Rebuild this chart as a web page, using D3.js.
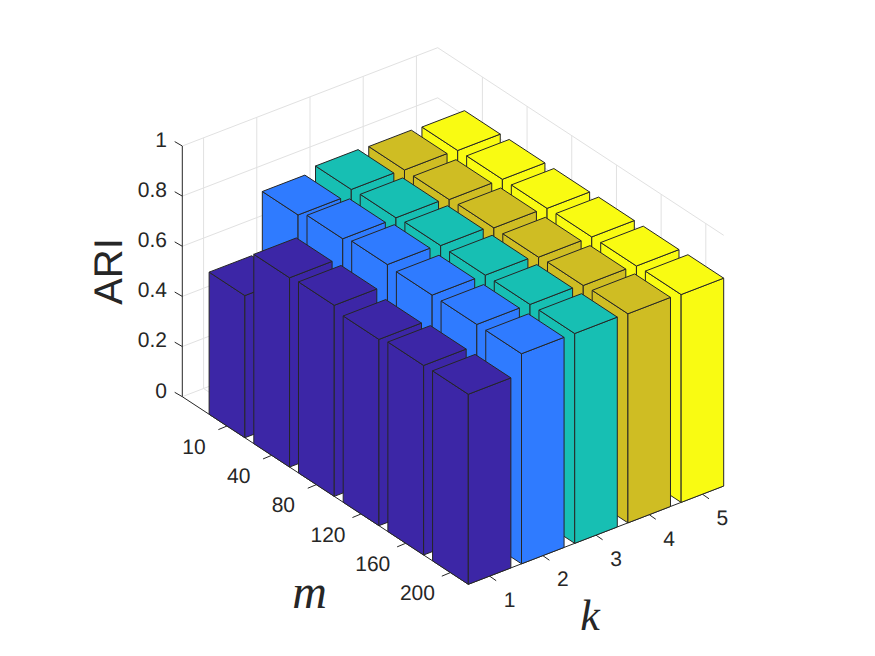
<!DOCTYPE html>
<html>
<head>
<meta charset="utf-8">
<script src="https://d3js.org/d3.v7.min.js"></script>
<style>
  html, body { margin: 0; padding: 0; background: #fff; }
  svg { display: block; }
  text { font-family: "Liberation Sans", Arial, sans-serif; fill: #262626; text-rendering: geometricPrecision; }
</style>
</head>
<body>
<div id="chart"></div>
<script>
(function(){
    'use strict';

    var kLabels = ["1", "2", "3", "4", "5"],
        mLabels = ["10", "40", "80", "120", "160", "200"],
        zTicks = [0, 0.2, 0.4, 0.6, 0.8, 1],
        zTickLabels = ["0", "0.2", "0.4", "0.6", "0.8", "1"],
        colors = ["#3c26a6", "#2f7bff", "#17bfb3", "#cfbd23", "#f9fb12"];

    // ARI per k, one value per m
    var ariK1 = [0.567, 0.755, 0.762, 0.743, 0.756, 0.758],
        ariK2 = [0.807, 0.829, 0.843, 0.838, 0.838, 0.838],
        ariK3 = [0.827, 0.831, 0.837, 0.836, 0.836, 0.837],
        ariK4 = [0.823, 0.822, 0.826, 0.826, 0.830, 0.834],
        ariK5 = [0.819, 0.821, 0.822, 0.825, 0.826, 0.829];
    var ari = [ariK1, ariK2, ariK3, ariK4, ariK5];

    var width = 875,
        height = 656,
        barHalf = 0.4,
        gridColor = "#e1e1e1",
        axisColor = "#262626";

    // projected floor corners of the axes box, the view is orthographic
    var front = [468.3, 584.3],
        right = [723.7, 486],
        left = [182.3, 396.7];

    // bar3 limits: k runs 0.6..5.4, m position runs 0..6.4 towards the viewer
    var kScale = d3.scaleLinear().domain([0.6, 5.4]).range([0, 1]),
        mScale = d3.scaleLinear().domain([6.4, 0]).range([0, 1]),
        zScale = d3.scaleLinear().domain([0, 1]).range([0, 250.7]);

    function project(k, m, z) {
        var a = kScale(k), b = mScale(m);
        return [
            front[0] + a * (right[0] - front[0]) + b * (left[0] - front[0]),
            front[1] + a * (right[1] - front[1]) + b * (left[1] - front[1]) - zScale(z)
        ];
    }

    var line = d3.line();
    function poly(points) { return line(points) + "Z"; }

    var svg = d3.select("#chart").append("svg")
        .attr("width", width)
        .attr("height", height);

    var kTicks = kLabels.map(function(d, i) { return i + 1; }),
        mTicks = mLabels.map(function(d, i) { return i + 1; });

    // grid on the floor and the two back walls
    var gridLines = [];
    zTicks.forEach(function(z) {
        gridLines.push([project(0.6, 0, z), project(5.4, 0, z)]);
        gridLines.push([project(5.4, 0, z), project(5.4, 6.4, z)]);
    });
    kTicks.forEach(function(k) {
        gridLines.push([project(k, 0, 0), project(k, 0, 1)]);
        gridLines.push([project(k, 0, 0), project(k, 6.4, 0)]);
    });
    mTicks.forEach(function(m) {
        gridLines.push([project(5.4, m, 0), project(5.4, m, 1)]);
        gridLines.push([project(5.4, m, 0), project(0.6, m, 0)]);
    });

    svg.append("g").selectAll("path")
        .data(gridLines)
        .enter().append("path")
        .attr("d", function(d) { return line(d); })
        .attr("fill", "none")
        .attr("stroke", gridColor)
        .attr("stroke-width", 1);

    // axis lines and ticks
    var axisLines = [
        [project(0.6, 0, 0), project(0.6, 0, 1)],
        [project(0.6, 0, 0), project(0.6, 6.4, 0)],
        [project(0.6, 6.4, 0), project(5.4, 6.4, 0)]
    ];

    zTicks.forEach(function(z) {
        var p = project(0.6, 0, z);
        axisLines.push([p, [p[0] - 7.6, p[1] - 4.4]]);
    });
    mTicks.forEach(function(m) {
        var p = project(0.6, m, 0);
        axisLines.push([p, [p[0] - 8.6, p[1] + 3.6]]);
    });
    kTicks.forEach(function(k) {
        var p = project(k, 6.4, 0);
        axisLines.push([p, [p[0] + 6.6, p[1] + 4.6]]);
    });

    svg.append("g").selectAll("path")
        .data(axisLines)
        .enter().append("path")
        .attr("d", function(d) { return line(d); })
        .attr("fill", "none")
        .attr("stroke", axisColor)
        .attr("stroke-width", 1);

    // painter order: far column first, back row first
    var bars = [];
    d3.range(kLabels.length - 1, -1, -1).forEach(function(c) {
        mLabels.forEach(function(d, r) {
            bars.push({ k: c + 1, m: r + 1, value: ari[c][r], color: colors[c] });
        });
    });

    var barG = svg.append("g").selectAll("g")
        .data(bars)
        .enter().append("g")
        .attr("fill", function(d) { return d.color; })
        .attr("stroke", axisColor)
        .attr("stroke-width", 1)
        .attr("stroke-linejoin", "round");

    // side facing -k
    barG.append("path").attr("d", function(d) {
        var k0 = d.k - barHalf, m0 = d.m - barHalf, m1 = d.m + barHalf;
        return poly([project(k0, m0, 0), project(k0, m1, 0), project(k0, m1, d.value), project(k0, m0, d.value)]);
    });
    // side facing +m
    barG.append("path").attr("d", function(d) {
        var k0 = d.k - barHalf, k1 = d.k + barHalf, m1 = d.m + barHalf;
        return poly([project(k0, m1, 0), project(k1, m1, 0), project(k1, m1, d.value), project(k0, m1, d.value)]);
    });
    // top
    barG.append("path").attr("d", function(d) {
        var k0 = d.k - barHalf, k1 = d.k + barHalf, m0 = d.m - barHalf, m1 = d.m + barHalf;
        return poly([project(k0, m0, d.value), project(k0, m1, d.value), project(k1, m1, d.value), project(k1, m0, d.value)]);
    });

    // tick labels
    svg.append("g").selectAll("text")
        .data(zTicks)
        .enter().append("text")
        .attr("x", 167)
        .attr("y", function(d) { return project(0.6, 0, d)[1] - 6.5; })
        .attr("dy", "0.35em")
        .attr("text-anchor", "end")
        .style("font-size", "21px")
        .text(function(d, i) { return zTickLabels[i]; });

    svg.append("g").selectAll("text")
        .data(mLabels)
        .enter().append("text")
        .attr("x", function(d, i) { return project(0.6, i + 1, 0)[0] - 33; })
        .attr("y", function(d, i) { return project(0.6, i + 1, 0)[1] + 20.5; })
        .attr("dy", "0.35em")
        .attr("text-anchor", "middle")
        .style("font-size", "21px")
        .text(function(d) { return d; });

    svg.append("g").selectAll("text")
        .data(kLabels)
        .enter().append("text")
        .attr("x", function(d, i) { return project(i + 1, 6.4, 0)[0] + 20; })
        .attr("y", function(d, i) { return project(i + 1, 6.4, 0)[1] + 23.5; })
        .attr("dy", "0.35em")
        .attr("text-anchor", "middle")
        .style("font-size", "21px")
        .text(function(d) { return d; });

    // axis titles
    svg.append("text")
        .attr("transform", "translate(122,271.5) rotate(-90)")
        .attr("text-anchor", "middle")
        .style("font-size", "40px")
        .text("ARI");

    svg.append("text")
        .attr("x", 309.5)
        .attr("y", 608)
        .attr("text-anchor", "middle")
        .style("font-family", "'Liberation Serif', serif")
        .style("font-style", "italic")
        .style("font-size", "48px")
        .text("m");

    svg.append("text")
        .attr("x", 590)
        .attr("y", 630)
        .attr("text-anchor", "middle")
        .style("font-family", "'Liberation Serif', serif")
        .style("font-style", "italic")
        .style("font-size", "44px")
        .text("k");
})();
</script>
</body>
</html>
